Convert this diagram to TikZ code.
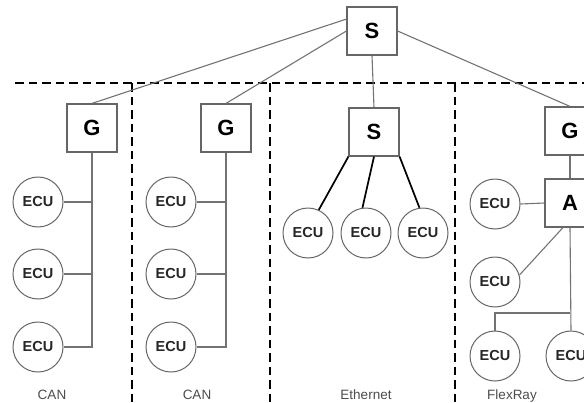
\documentclass[tikz,border=0pt]{standalone}
\usepackage{fontspec}
\setmainfont{Liberation Sans}
\begin{document}
\begin{tikzpicture}[x=1pt,y=-1pt,
  box/.style={draw=black!60,line width=1.2pt,fill=white,minimum width=50pt,minimum height=48pt,inner sep=0pt,
    font=\fontsize{22}{22}\selectfont\bfseries},
  ecu/.style={circle,draw=black!60,line width=1pt,fill=white,minimum size=50pt,inner sep=0pt,
    font=\fontsize{14.5}{14.5}\selectfont\bfseries,text=black!85},
  link/.style={draw=black!55,line width=1.1pt},
  eth/.style={draw=black,line width=1.7pt},
  zone/.style={draw=black,line width=2.8pt,dash pattern=on 8.5pt off 5pt},
  netlabel/.style={font=\fontsize{13.5}{13.5}\selectfont,text=black!70,anchor=base}]
\useasboundingbox (0,0) rectangle (584,402);
\clip (0,0) rectangle (584,402);

% domain borders
\draw[zone] (15,83) -- (590,83);
\draw[zone] (132,83) -- (132,410);
\draw[zone] (270,83) -- (270,410);
\draw[zone] (455,83) -- (455,410);

% central switch and gateways
\node[box] (S0) at (372,31) {S};
\node[box] (G1) at (92,128) {G};
\node[box] (G2) at (226,128) {G};
\node[box] (S1) at (374,132) {S};
\node[box] (G3) at (570,131) {G};
\node[box] (A) at (570,203) {A};

% CAN domain 1
\node[ecu] (c11) at (38,202) {ECU};
\node[ecu] (c12) at (38,274) {ECU};
\node[ecu] (c13) at (38,347) {ECU};
% CAN domain 2
\node[ecu] (c21) at (171,202) {ECU};
\node[ecu] (c22) at (171,274) {ECU};
\node[ecu] (c23) at (171,347) {ECU};
% Ethernet domain
\node[ecu] (e1) at (308,233) {ECU};
\node[ecu] (e2) at (366,233) {ECU};
\node[ecu] (e3) at (423,233) {ECU};
% FlexRay domain
\node[ecu] (f1) at (495,204) {ECU};
\node[ecu] (f2) at (495,282) {ECU};
\node[ecu] (f3) at (495,356) {ECU};
\node[ecu] (f4) at (571,356) {ECU};

% backbone links
\draw[link] (S0.155) -- (G1.north);
\draw[link] (S0.west) -- (G2.north);
\draw[link] (S0.south) -- (S1.north);
\draw[link] (S0.east) -- (G3.north);

% CAN buses
\draw[link] (G1.south) |- (c13.east);
\draw[link] (c11.east) -- (c11.east -| G1.south);
\draw[link] (c12.east) -- (c12.east -| G1.south);
\draw[link] (G2.south) |- (c23.east);
\draw[link] (c21.east) -- (c21.east -| G2.south);
\draw[link] (c22.east) -- (c22.east -| G2.south);

% Ethernet star
\draw[eth] (S1.south west) -- (e1.65);
\draw[eth] (S1.south) -- (e2.98);
\draw[eth] (S1.south east) -- (e3.98);

% FlexRay cluster
\coordinate (fj) at (570,313);
\draw[link] (G3.south) -- (A.north);
\draw[link] (f1.east) -- (A.west);
\draw[link] (A.254) -- (f2.16);
\draw[link] (A.south) -- (f4.north);
\draw[link] (fj) -| (f3.north);

% domain names
\node[netlabel] (l1) at (52,399) {CAN};
\node[netlabel] (l2) at (197,399) {CAN};
\node[netlabel] (l3) at (366,399) {Ethernet};
\node[netlabel] (l4) at (512,399) {FlexRay};
\end{tikzpicture}
\end{document}
